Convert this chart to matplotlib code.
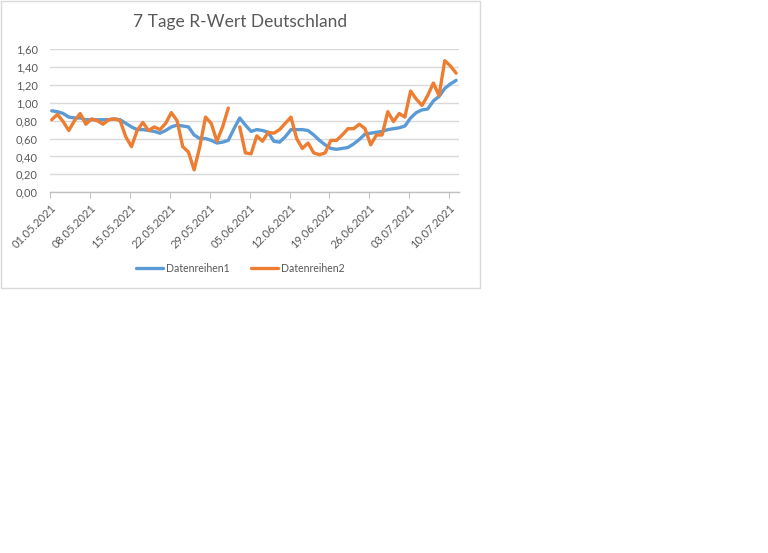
import matplotlib
matplotlib.use("Agg")
import matplotlib.pyplot as plt
from matplotlib.patches import Rectangle
import numpy as np
import pandas as pd

dates = pd.date_range("2021-05-01", "2021-07-11", freq="D")
tick_labels = ["01.05.2021", "08.05.2021", "15.05.2021", "22.05.2021", "29.05.2021",
               "05.06.2021", "12.06.2021", "19.06.2021", "26.06.2021", "03.07.2021",
               "10.07.2021"]

series1 = [0.91, 0.90, 0.88, 0.84, 0.83, 0.83, 0.81, 0.81, 0.81, 0.81,
           0.81, 0.82, 0.81, 0.77, 0.73, 0.70, 0.70, 0.69, 0.68, 0.66,
           0.69, 0.73, 0.75, 0.74, 0.73, 0.64, 0.60, 0.60, 0.58, 0.55,
           0.56, 0.58, 0.71, 0.83, 0.75, 0.68, 0.70, 0.69, 0.67, 0.57,
           0.56, 0.62, 0.70, 0.70, 0.70, 0.69, 0.64, 0.58, 0.53, 0.49,
           0.48, 0.49, 0.50, 0.54, 0.59, 0.65, 0.66, 0.67, 0.68, 0.70,
           0.71, 0.72, 0.74, 0.83, 0.89, 0.92, 0.93, 1.02, 1.07, 1.16,
           1.21, 1.25]

series2 = [0.81, 0.87, 0.79, 0.69, 0.80, 0.88, 0.76, 0.82, 0.80, 0.76,
           0.81, 0.82, 0.80, 0.62, 0.51, 0.69, 0.78, 0.69, 0.73, 0.70,
           0.77, 0.89, 0.80, 0.51, 0.45, 0.25, 0.51, 0.84, 0.77, 0.57,
           0.73, 0.94, np.nan, 0.73, 0.44, 0.43, 0.63, 0.57, 0.67, 0.66,
           0.70, 0.77, 0.84, 0.60, 0.49, 0.55, 0.44, 0.42, 0.44, 0.58,
           0.58, 0.64, 0.71, 0.71, 0.76, 0.71, 0.53, 0.64, 0.64, 0.90,
           0.79, 0.88, 0.84, 1.13, 1.04, 0.97, 1.08, 1.22, 1.08, 1.47,
           1.41, 1.33]

yticks = [0.0, 0.2, 0.4, 0.6, 0.8, 1.0, 1.2, 1.4, 1.6]

W, H = 768, 553
fig = plt.figure(figsize=(W / 100, H / 100), dpi=100)
fig.patch.set_facecolor("white")

font = ["Lato", "DejaVu Sans"]
grey = "#595959"

# chart border
fig.add_artist(Rectangle((0.5 / W, 1 - 287.5 / H), 479 / W, 287 / H,
                         transform=fig.transFigure, fill=False,
                         edgecolor="#D9D9D9", linewidth=1.0))

left, right, top, bottom = 50.3, 459.0, 49.0, 192.3
ax = fig.add_axes([left / W, 1 - bottom / H, (right - left) / W, (bottom - top) / H])

x = np.arange(len(dates))
ax.plot(x, series1, color="#5B9BD5", lw=2.4, label="Datenreihen1", solid_capstyle="round",
        solid_joinstyle="round")
ax.plot(x, series2, color="#ED7D31", lw=2.4, label="Datenreihen2", solid_capstyle="round",
        solid_joinstyle="round")

ax.set_ylim(0, 1.6)
ax.set_xlim(-0.25, 71.5)
ax.set_yticks(yticks)
ax.set_yticklabels([f"{v:.2f}".replace(".", ",") for v in yticks],
                   fontfamily=font, fontsize=8, color=grey)
ax.set_xticks(np.arange(0, 71, 7) - 0.25)
ax.set_xticklabels(tick_labels, rotation=45, ha="right", rotation_mode="anchor",
                   fontfamily=font, fontsize=8, color=grey)
ax.tick_params(axis="y", length=0, pad=9)
ax.tick_params(axis="x", length=4, color="#BFBFBF", width=0.8, pad=3)
ax.grid(axis="y", color="#D9D9D9", lw=1.0)
ax.set_axisbelow(True)
for s in ["left", "right", "top"]:
    ax.spines[s].set_visible(False)
ax.spines["bottom"].set_color("#BFBFBF")
ax.spines["bottom"].set_linewidth(1.0)

fig.text(240 / W, 1 - 22 / H, "7 Tage R-Wert Deutschland", ha="center", va="center",
         fontfamily=font, fontsize=12.5, color=grey)

leg = fig.legend(loc="center", bbox_to_anchor=(240 / W, 1 - 268 / H), ncol=2,
                 frameon=False, prop={"family": font, "size": 7.6},
                 handlelength=2.6, columnspacing=2.0, handletextpad=0.25)
for t in leg.get_texts():
    t.set_color(grey)

fig.savefig("out.png", dpi=100, facecolor="white")
